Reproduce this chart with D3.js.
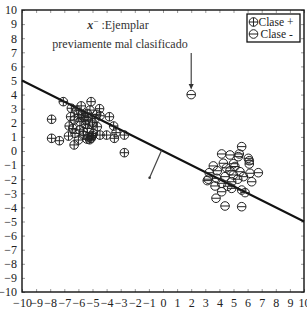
<!DOCTYPE html>
<html>
<head>
<meta charset="utf-8">
<style>
  body { margin: 0; background: white; }
  svg { display: block; }
  text { font-family: "Liberation Serif", "DejaVu Serif", serif; }
</style>
</head>
<body>
<svg width="307" height="311"></svg>
<script src="https://cdn.jsdelivr.net/npm/d3@7"></script>
<script>
// clase + (circulo con cruz)
var plusX = [-7.07,-5.1,-7.9,-7.9,-7.35,-6.3,-6.5,-5.8,-4.5,-4.47,-3.8,-3.5,-3.33,-2.74,-4.0,-3.45,-2.74,
  -6.55,-6.65,-6.7,-6.4,-5.65,-5.06,-5.2,-6.12,-5.77,-5.89,-5.46,-5.37,-5.37,-4.99,-4.66,-4.82,-5.18,
  -5.65,-6.24,-4.94,-6.0,-4.47,-5.3,-5.1,-5.4,-5.0,-5.5,-5.6,-6.0,-5.9,-6.3,-5.3,-4.7,-5.0];
var plusY = [3.5,3.5,2.25,0.9,0.73,0.43,3.03,3.2,3.0,2.5,2.43,1.77,1.3,1.13,1.13,0.9,-0.12,
  2.43,1.77,1.06,1.6,1.13,1.01,0.8,2.9,2.55,2.08,2.2,2.67,1.6,1.84,1.72,2.3,2.9,
  1.37,1.25,1.25,0.78,1.13,1.0,0.9,0.85,1.1,1.9,2.4,2.6,1.5,2.2,2.4,2.6,2.0];
// clase - (circulo con barra)
var minusX = [5.58,4.16,4.75,5.34,6.12,6.12,3.57,4.28,3.85,3.28,4.75,5.46,6.17,6.76,3.21,3.81,4.4,4.99,
  5.7,6.29,4.16,4.87,3.69,4.16,4.87,5.58,5.82,4.4,5.58,3.76,5.41,6.05,3.14,4.5,5.1,5.3,4.6,5.0,2];
var minusY = [0.31,-0.21,-0.28,-0.4,-0.69,-0.92,-1.06,-0.87,-1.4,-1.54,-1.4,-1.47,-1.58,-1.54,-2.0,-1.94,-1.82,-1.7,
  -1.82,-2.18,-2.29,-2.18,-2.48,-2.89,-2.65,-2.77,-2.95,-3.9,-3.95,-3.35,-0.21,-0.52,-2.1,-1.2,-1.1,-2.0,-2.5,-0.9,4];
// hiperplano y = -0.5 x, vector normal
var lineX = [-10, 10];
var lineY = [5, -5];
var normalFrom = [-0.1, 0.05];
var normalTo = [-0.95, -1.9];
var ticks = d3.range(-10, 11);
var legendLabels = ["Clase +", "Clase -"];

var svg = d3.select("svg");
var pLeft = 22, pRight = 304, pTop = 10, pBottom = 292;

var x = d3.scaleLinear().domain([-10, 10]).range([pLeft, pRight]);
var y = d3.scaleLinear().domain([-10, 10]).range([pBottom, pTop]);
var fmt = function(d) { return d < 0 ? "\u2212" + Math.abs(d) : String(d); };

// ejes con ticks hacia dentro
svg.append("g").attr("transform", "translate(0," + pBottom + ")")
  .call(d3.axisBottom(x).tickValues(ticks).tickSize(-3).tickPadding(6).tickFormat(fmt));
svg.append("g").attr("transform", "translate(" + pLeft + ",0)")
  .call(d3.axisLeft(y).tickValues(ticks).tickSize(-3).tickPadding(5).tickFormat(fmt));
svg.append("g").attr("transform", "translate(0," + pTop + ")")
  .call(d3.axisTop(x).tickValues(ticks).tickSize(-3).tickFormat(""));
svg.append("g").attr("transform", "translate(" + pRight + ",0)")
  .call(d3.axisRight(y).tickValues(ticks).tickSize(-3).tickFormat(""));
svg.selectAll(".domain").remove();
svg.selectAll(".tick line").attr("stroke", "#555").attr("stroke-width", 0.6);
svg.selectAll(".tick text").attr("fill", "#222").style("font-size", "12px")
  .style("font-family", "'Liberation Serif', serif");

svg.append("rect").attr("x", pLeft).attr("y", pTop)
  .attr("width", pRight - pLeft).attr("height", pBottom - pTop)
  .attr("fill", "none").attr("stroke", "#111").attr("stroke-width", 1.4);

// hiperplano
svg.append("line")
  .attr("x1", x(lineX[0])).attr("y1", y(lineY[0]))
  .attr("x2", x(lineX[1])).attr("y2", y(lineY[1]))
  .attr("stroke", "#111").attr("stroke-width", 2);

svg.append("line")
  .attr("x1", x(normalFrom[0])).attr("y1", y(normalFrom[1]))
  .attr("x2", x(normalTo[0])).attr("y2", y(normalTo[1]))
  .attr("stroke", "#444").attr("stroke-width", 1.2);
svg.append("circle").attr("cx", x(normalTo[0])).attr("cy", y(normalTo[1]))
  .attr("r", 1.3).attr("fill", "#333");

var r = 4.3;
function marker(g, withPlus) {
  g.append("circle").attr("r", r).attr("fill", "none").attr("stroke", "#222").attr("stroke-width", 1);
  g.append("line").attr("x1", -r).attr("x2", r).attr("stroke", "#222").attr("stroke-width", 1);
  if (withPlus) g.append("line").attr("y1", -r).attr("y2", r).attr("stroke", "#222").attr("stroke-width", 1);
}

svg.append("g").selectAll("g").data(d3.range(plusX.length)).enter().append("g")
  .attr("transform", function(i) { return "translate(" + x(plusX[i]) + "," + y(plusY[i]) + ")"; })
  .each(function() { marker(d3.select(this), true); });

svg.append("g").selectAll("g").data(d3.range(minusX.length)).enter().append("g")
  .attr("transform", function(i) { return "translate(" + x(minusX[i]) + "," + y(minusY[i]) + ")"; })
  .each(function() { marker(d3.select(this), false); });

// anotacion
var t1 = svg.append("text").attr("x", 118).attr("y", 29).attr("text-anchor", "middle")
  .attr("fill", "#333").style("font-size", "12px");
t1.append("tspan").style("font-weight", "bold").style("font-style", "italic").text("x");
t1.append("tspan").attr("dy", -5).style("font-size", "9px").text("\u2212");
t1.append("tspan").attr("dy", 5).text(" :Ejemplar");
svg.append("text").attr("x", 120).attr("y", 48).attr("text-anchor", "middle")
  .attr("fill", "#333").style("font-size", "12px").text("previamente mal clasificado");

svg.append("defs").append("marker").attr("id", "ah").attr("viewBox", "0 0 10 10")
  .attr("refX", 9).attr("refY", 5).attr("markerWidth", 5).attr("markerHeight", 5)
  .attr("orient", "auto").append("path").attr("d", "M0,0L10,5L0,10z").attr("fill", "#333");
svg.append("line").attr("x1", x(2)).attr("x2", x(2)).attr("y1", 53).attr("y2", y(4) - 6)
  .attr("stroke", "#333").attr("stroke-width", 1.1).attr("marker-end", "url(#ah)");

// leyenda
var lg = svg.append("g").attr("transform", "translate(247,14)");
lg.append("rect").attr("width", 53).attr("height", 28).attr("fill", "white")
  .attr("stroke", "#111").attr("stroke-width", 1.3);
legendLabels.forEach(function(lab, i) {
  var row = lg.append("g").attr("transform", "translate(6.5," + (8 + i * 12) + ")");
  marker(row, i === 0);
  lg.append("text").attr("x", 11.5 + (i === 1 ? 2 : 0)).attr("y", 12 + i * 12)
    .attr("fill", "#222").style("font-size", "11.5px").text(lab);
});
</script>
</body>
</html>
